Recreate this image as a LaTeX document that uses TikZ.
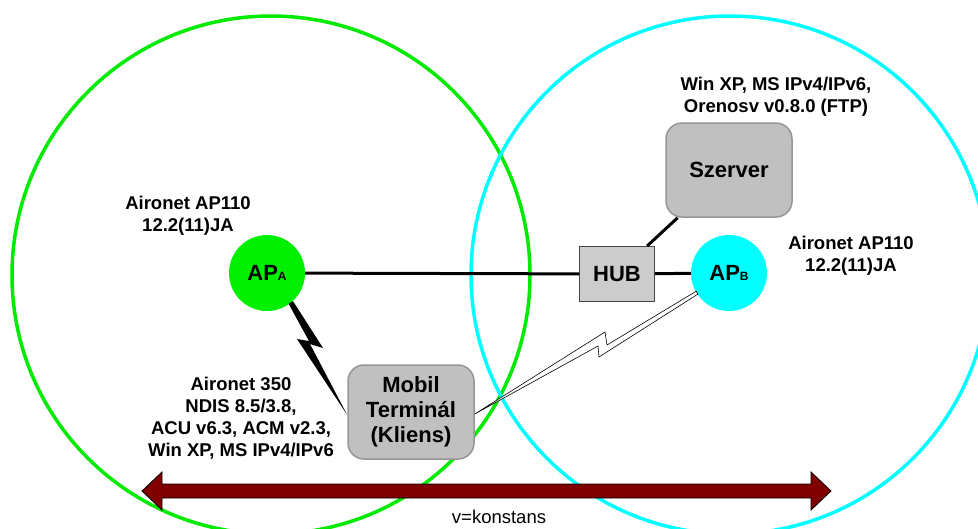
\documentclass[tikz,border=0pt]{standalone}
\usepackage{fontspec}
\setmainfont{Liberation Sans}
\usetikzlibrary{calc}
\definecolor{gline}{RGB}{0,235,0}
\definecolor{gfill}{RGB}{0,240,0}
\definecolor{cline}{RGB}{0,255,255}
\definecolor{boxgray}{RGB}{192,192,192}
\definecolor{boxborder}{RGB}{150,150,150}
\definecolor{hubfill}{RGB}{204,204,204}
\definecolor{hubborder}{RGB}{70,70,70}
\definecolor{arrowred}{RGB}{128,0,0}
\tikzset{
  apnode/.style={circle, minimum size=76pt, inner sep=0pt, font=\bfseries\fontsize{22}{26}\selectfont},
  graybox/.style={rounded corners=16pt, fill=boxgray, draw=boxborder, line width=1.5pt, minimum width=126pt, minimum height=94pt, align=center, inner sep=0pt, font=\bfseries\fontsize{22}{26}\selectfont},
  hubbox/.style={fill=hubfill, draw=hubborder, line width=1pt, minimum width=75pt, minimum height=55pt, inner sep=0pt, font=\bfseries\fontsize{22}{26}\selectfont},
  infolabel/.style={align=center, inner sep=0pt, font=\bfseries\fontsize{18.5}{22}\selectfont},
  wire/.style={line width=3pt, black},
  coverage/.style={line width=3.5pt},
}
\newcommand{\subsmall}[1]{{\fontsize{12}{12}\selectfont #1}}
\begin{document}
\begin{tikzpicture}[x=1pt, y=-1pt]
\useasboundingbox (0,0) rectangle (978,528);
\fill[white] (0,0) rectangle (978,528);
% coverage circles
\draw[coverage, gline] (271,275) circle[radius=259pt];
\draw[coverage, cline] (730,275) circle[radius=259pt];
% nodes
\node[apnode, fill=gfill] (apa) at (267,273) {AP\subsmall{A}};
\node[apnode, fill=cline] (apb) at (729,273) {AP\subsmall{B}};
\node[hubbox] (hub) at (617,274) {HUB};
\node[graybox] (srv) at (729,170) {Szerver};
\node[graybox] (mob) at (411,412) {Mobil\\[-1pt]Termin\'al\\[-1pt](Kliens)};
% wired connections
\draw[wire] (apa) -- (hub);
\draw[wire] (hub) -- (apb);
\draw[wire] (hub) -- (srv);
% wireless links (lightning)
\coordinate (ba) at (apa.-51);
\coordinate (bb) at (apb.211);
\fill[black] ($(ba)+(-2.5,1)$) -- ($(ba)+(2,-1.5)$) -- (323,348) -- (310,344) -- ($(mob.west)+(0,3)$) -- (297,339) -- (309,341) -- cycle;
\filldraw[fill=white, draw=black, line width=0.6pt] ($(mob.east)+(0,2)$) -- (605,332) -- (607,345) -- ($(bb)+(0,-1.5)$) -- ($(bb)+(1.5,1.5)$) -- (599,357) -- (598,346) -- cycle;
% labels
\node[infolabel] (lblA) at (188,216) {Aironet AP110\\12.2(11)JA};
\node[infolabel] (lblB) at (851,256) {Aironet AP110\\12.2(11)JA};
\node[infolabel] (lblS) at (776,97) {Win XP, MS IPv4/IPv6,\\Orenosv v0.8.0 (FTP)};
\node[infolabel] (lblM) at (241,418) {Aironet 350\\NDIS 8.5/3.8,\\ACU v6.3, ACM v2.3,\\Win XP, MS IPv4/IPv6};
% speed arrow
\filldraw[fill=arrowred, draw=black, line width=0.8pt] (142,491) -- (162,472) -- (162,484) -- (811,484) -- (811,472) -- (831,491) -- (811,510) -- (811,498) -- (162,498) -- (162,510) -- cycle;
\node[inner sep=0pt, font=\fontsize{18.5}{22}\selectfont] (vlbl) at (499,517) {v=konstans};
\end{tikzpicture}
\end{document}
